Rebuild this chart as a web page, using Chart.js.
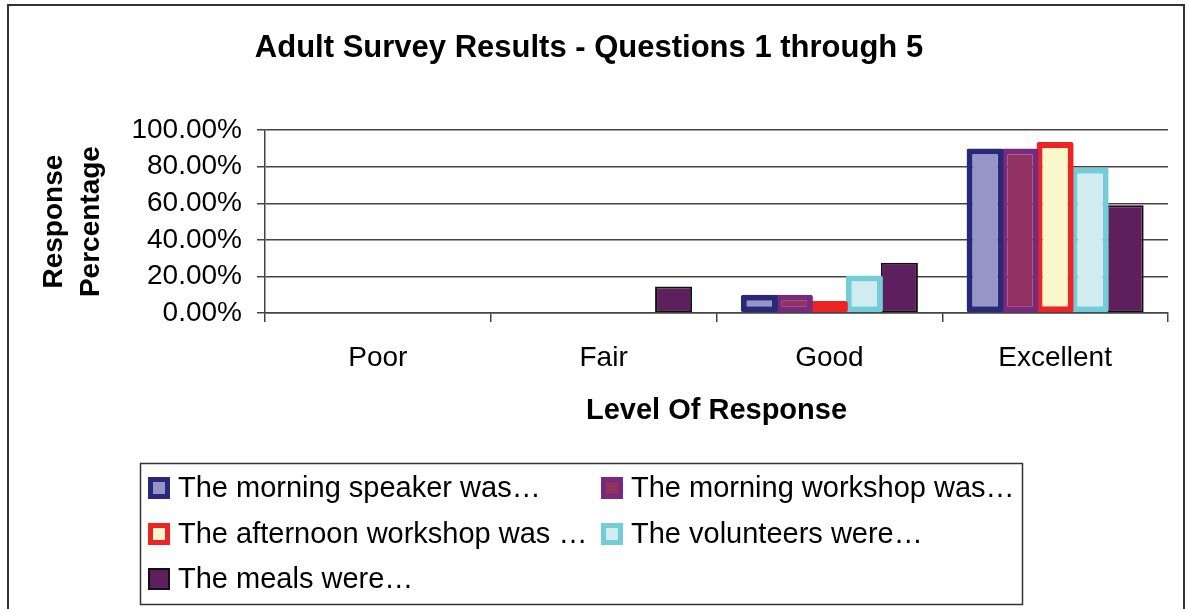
<!DOCTYPE html>
<html>
<head>
<meta charset="utf-8">
<script src="https://cdn.jsdelivr.net/npm/chart.js@4.4.1/dist/chart.umd.min.js"></script>
<style>
  html, body { margin: 0; padding: 0; background: #fff; }
  canvas { display: block; }
</style>
</head>
<body>
<canvas id="grafica" width="1187" height="609"></canvas>
<script>
const categorias = ['Poor', 'Fair', 'Good', 'Excellent'];
const nombres = [
  'The morning speaker was…',
  'The morning workshop was…',
  'The afternoon workshop was …',
  'The volunteers were…',
  'The meals were…'
];
// porcentajes por nivel de respuesta
const ponente = [0, 0, 10, 90];
const tallerManana = [0, 0, 10, 90];
const tallerTarde = [0, 0, 6.5, 93.5];
const voluntarios = [0, 0, 20.5, 79.5];
const comidas = [0, 14.5, 27.5, 59];
const ticksY = [0, 20, 40, 60, 80, 100];

const rellenos = ['#9595c8', '#923262', '#fbf7cd', '#d1ecf0', '#5e1f5e'];
const bordes = ['#29297a', '#7a2a7c', '#ee2424', '#73cdd9', '#111111'];
const grosores = [6, 6, 6, 6, 2];

const series = [ponente, tallerManana, tallerTarde, voluntarios, comidas];

const fuente = "'Liberation Sans', Arial, sans-serif";

// marco exterior y leyenda en caja, como en la hoja de calculo
const leyendaCaja = {
  id: 'leyendaCaja',
  afterDraw(chart) {
    const c = chart.ctx;
    c.save();
    c.strokeStyle = '#333';
    c.lineWidth = 2;
    c.strokeRect(8, 5, 1176, 610);
    c.lineWidth = 1.5;
    c.strokeRect(140.5, 463.5, 882, 141);

    const pos = [[148, 488], [601, 488], [148, 534], [601, 534], [148, 579]];
    c.font = '29px ' + fuente;
    c.textBaseline = 'middle';
    chart.data.datasets.forEach((ds, i) => {
      const [x, y] = pos[i];
      const g = i === 4 ? 2 : 5;
      c.fillStyle = ds.borderColor;
      c.fillRect(x, y - 11, 22, 22);
      c.fillStyle = ds.backgroundColor;
      c.fillRect(x + g, y - 11 + g, 22 - 2 * g, 22 - 2 * g);
      c.fillStyle = '#000';
      c.fillText(ds.label, x + 30, y + 1);
    });
    c.restore();
  }
};

const ctx = document.getElementById('grafica').getContext('2d');
const chart = new Chart(ctx, {
  type: 'bar',
  data: {
    labels: categorias,
    datasets: series.map((valores, i) => ({
      label: nombres[i],
      data: valores,
      backgroundColor: rellenos[i],
      borderColor: bordes[i],
      borderWidth: grosores[i],
      borderSkipped: false,
      borderRadius: i === 4 ? 0 : 2,
      barPercentage: 1.06,
      categoryPercentage: 0.775
    }))
  },
  options: {
    responsive: false,
    animation: false,
    layout: { padding: { top: 10, left: 10, right: 19, bottom: 156 } },
    plugins: {
      legend: { display: false },
      tooltip: { enabled: false },
      title: {
        display: true,
        text: 'Adult Survey Results - Questions 1 through 5',
        color: '#000',
        font: { family: fuente, size: 31, weight: 'bold', lineHeight: 1.2 },
        padding: { top: 20, bottom: 63 }
      }
    },
    scales: {
      x: {
        afterFit(scale) { scale.height = 140; },
        grid: {
          offset: true,
          drawOnChartArea: false,
          drawTicks: true,
          tickLength: 9,
          color: '#444',
          lineWidth: 1.5
        },
        border: { display: true, color: '#444', width: 1.5 },
        ticks: {
          color: '#000',
          padding: 19,
          font: { family: fuente, size: 28 }
        },
        title: {
          display: true,
          text: 'Level Of Response',
          color: '#000',
          font: { family: fuente, size: 29, weight: 'bold', lineHeight: 1.2 },
          padding: { top: 0, bottom: 25 }
        }
      },
      y: {
        min: 0,
        max: 100,
        afterFit(scale) { scale.width = 255; },
        afterBuildTicks(scale) { scale.ticks = ticksY.map(v => ({ value: v })); },
        grid: {
          color: '#444',
          lineWidth: 1.5,
          drawTicks: true,
          tickLength: 8
        },
        border: { display: true, color: '#444', width: 1.5 },
        ticks: {
          autoSkip: false,
          color: '#000',
          padding: 15,
          font: { family: fuente, size: 28, lineHeight: 1 },
          callback: v => v.toFixed(2) + '%'
        },
        title: {
          display: true,
          text: ['Response', 'Percentage'],
          color: '#000',
          font: { family: fuente, size: 28, weight: 'bold', lineHeight: 1.32 },
          padding: { top: 26, bottom: 0 }
        }
      }
    }
  },
  plugins: [leyendaCaja]
});
</script>
</body>
</html>
